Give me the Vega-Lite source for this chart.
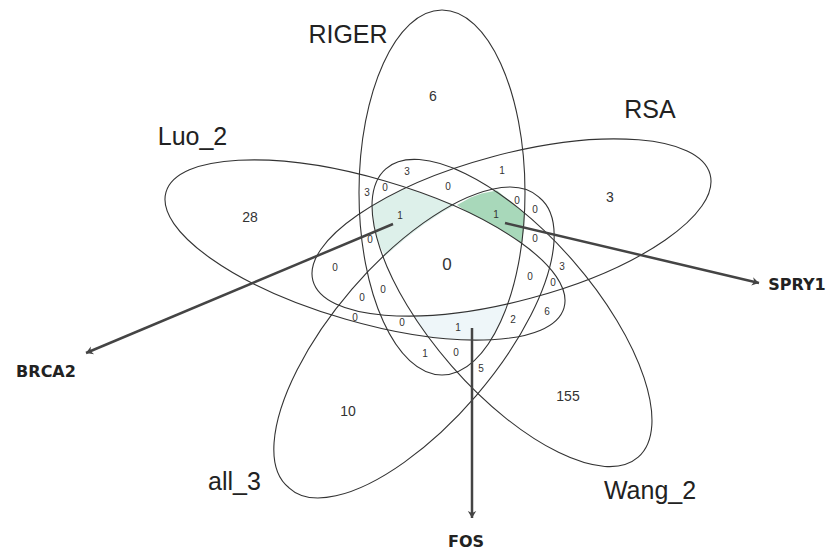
{
  "$schema": "https://vega.github.io/schema/vega-lite/v6.json",
  "width": 828,
  "height": 551,
  "padding": 0,
  "autosize": {"type": "none"},
  "background": "white",
  "config": {"view": {"stroke": null}},
  "datasets": {
    "ellipses": [
      {"set": "RIGER", "x": 442, "y": 192.5},
      {"set": "RSA", "x": 511.5, "y": 227.5},
      {"set": "Luo_2", "x": 365, "y": 250},
      {"set": "all_3", "x": 414, "y": 342.5},
      {"set": "Wang_2", "x": 512, "y": 313}
    ],
    "regions": [
      {"region": "BRCA2", "i": 1, "x": 372, "y": 205},
      {"region": "BRCA2", "i": 2, "x": 387, "y": 197.5},
      {"region": "BRCA2", "i": 3, "x": 403, "y": 189},
      {"region": "BRCA2", "i": 4, "x": 412.6, "y": 189.7},
      {"region": "BRCA2", "i": 5, "x": 435.9, "y": 198.4},
      {"region": "BRCA2", "i": 6, "x": 456, "y": 205},
      {"region": "BRCA2", "i": 7, "x": 443, "y": 211.7},
      {"region": "BRCA2", "i": 8, "x": 423.8, "y": 224.4},
      {"region": "BRCA2", "i": 9, "x": 406.7, "y": 237.5},
      {"region": "BRCA2", "i": 10, "x": 385, "y": 256},
      {"region": "BRCA2", "i": 11, "x": 378.5, "y": 243.6},
      {"region": "BRCA2", "i": 12, "x": 374, "y": 225.2},
      {"region": "SPRY1", "i": 1, "x": 457, "y": 205},
      {"region": "SPRY1", "i": 2, "x": 470.7, "y": 197.5},
      {"region": "SPRY1", "i": 3, "x": 481.5, "y": 193.4},
      {"region": "SPRY1", "i": 4, "x": 497, "y": 190.5},
      {"region": "SPRY1", "i": 5, "x": 513.4, "y": 204.2},
      {"region": "SPRY1", "i": 6, "x": 524.5, "y": 213},
      {"region": "SPRY1", "i": 7, "x": 524, "y": 228},
      {"region": "SPRY1", "i": 8, "x": 521.8, "y": 243},
      {"region": "SPRY1", "i": 9, "x": 508.3, "y": 234.3},
      {"region": "SPRY1", "i": 10, "x": 495.6, "y": 226.7},
      {"region": "SPRY1", "i": 11, "x": 481.9, "y": 219.1},
      {"region": "SPRY1", "i": 12, "x": 467.3, "y": 211.9},
      {"region": "FOS", "i": 1, "x": 414, "y": 316},
      {"region": "FOS", "i": 2, "x": 428.7, "y": 315.4},
      {"region": "FOS", "i": 3, "x": 461.5, "y": 312.2},
      {"region": "FOS", "i": 4, "x": 495.7, "y": 306.4},
      {"region": "FOS", "i": 5, "x": 507, "y": 304.5},
      {"region": "FOS", "i": 6, "x": 501.4, "y": 320},
      {"region": "FOS", "i": 7, "x": 490.6, "y": 340},
      {"region": "FOS", "i": 8, "x": 471.7, "y": 340},
      {"region": "FOS", "i": 9, "x": 447.1, "y": 338.7},
      {"region": "FOS", "i": 10, "x": 434.1, "y": 337.3},
      {"region": "FOS", "i": 11, "x": 428.5, "y": 337},
      {"region": "FOS", "i": 12, "x": 421, "y": 326.8}
    ],
    "arrows": [
      {"gene": "BRCA2", "x": 393, "y": 224, "ex": 86, "ey": 353, "angle": 157.2},
      {"gene": "SPRY1", "x": 505, "y": 223, "ex": 759, "ey": 283, "angle": 13.3},
      {"gene": "FOS", "x": 472, "y": 328, "ex": 472, "ey": 518, "angle": 90}
    ],
    "labels": [
      {"text": "RIGER", "x": 348, "y": 43, "kind": "set"},
      {"text": "RSA", "x": 650, "y": 118, "kind": "set"},
      {"text": "Luo_2", "x": 192.5, "y": 145, "kind": "set"},
      {"text": "all_3", "x": 234.5, "y": 490, "kind": "set"},
      {"text": "Wang_2", "x": 650, "y": 499, "kind": "set"},
      {"text": "BRCA2", "x": 46, "y": 377, "kind": "gene"},
      {"text": "SPRY1", "x": 797, "y": 290, "kind": "gene"},
      {"text": "FOS", "x": 466, "y": 547, "kind": "gene"},
      {"text": "6", "x": 433, "y": 97, "kind": "big"},
      {"text": "3", "x": 610, "y": 198, "kind": "big"},
      {"text": "28", "x": 250, "y": 218, "kind": "big"},
      {"text": "10", "x": 348, "y": 412, "kind": "big"},
      {"text": "155", "x": 568, "y": 397, "kind": "big"},
      {"text": "0", "x": 447, "y": 265, "kind": "center"},
      {"text": "3", "x": 407, "y": 172, "kind": "small"},
      {"text": "1", "x": 502, "y": 171, "kind": "small"},
      {"text": "3", "x": 367, "y": 193, "kind": "small"},
      {"text": "0", "x": 385, "y": 188, "kind": "small"},
      {"text": "0", "x": 448, "y": 187, "kind": "small"},
      {"text": "1", "x": 400, "y": 216, "kind": "small"},
      {"text": "1", "x": 496, "y": 215, "kind": "small"},
      {"text": "0", "x": 517, "y": 201, "kind": "small"},
      {"text": "0", "x": 535, "y": 210, "kind": "small"},
      {"text": "0", "x": 370, "y": 240, "kind": "small"},
      {"text": "0", "x": 535, "y": 239, "kind": "small"},
      {"text": "0", "x": 335, "y": 268, "kind": "small"},
      {"text": "3", "x": 562, "y": 267, "kind": "small"},
      {"text": "0", "x": 530, "y": 277, "kind": "small"},
      {"text": "0", "x": 553, "y": 283, "kind": "small"},
      {"text": "0", "x": 383, "y": 290, "kind": "small"},
      {"text": "0", "x": 362, "y": 298, "kind": "small"},
      {"text": "0", "x": 355, "y": 318, "kind": "small"},
      {"text": "0", "x": 402, "y": 323, "kind": "small"},
      {"text": "1", "x": 458, "y": 328, "kind": "small"},
      {"text": "2", "x": 513, "y": 320, "kind": "small"},
      {"text": "6", "x": 547, "y": 312, "kind": "small"},
      {"text": "1", "x": 425, "y": 354, "kind": "small"},
      {"text": "0", "x": 456, "y": 353, "kind": "small"},
      {"text": "5", "x": 481, "y": 369, "kind": "small"}
    ]
  },
  "encoding": {
    "x": {"field": "x", "type": "quantitative", "scale": {"domain": [0, 828], "nice": false, "zero": false}, "axis": null},
    "y": {"field": "y", "type": "quantitative", "scale": {"domain": [0, 551], "nice": false, "zero": false, "reverse": true}, "axis": null}
  },
  "layer": [
    {
      "data": {"name": "regions"},
      "mark": {"type": "line", "interpolate": "linear-closed", "filled": true, "strokeWidth": 0},
      "encoding": {
        "order": {"field": "i", "type": "quantitative"},
        "fill": {"field": "region", "type": "nominal", "scale": {"domain": ["BRCA2", "SPRY1", "FOS"], "range": ["#ddf0ea", "#a8d8ba", "#eef6f9"]}, "legend": null}
      }
    },
    {
      "data": {"name": "ellipses"},
      "mark": {"type": "point", "filled": false, "size": 4, "stroke": "#333333", "strokeWidth": 1.1, "opacity": 1},
      "encoding": {
        "shape": {"field": "set", "type": "nominal", "legend": null, "scale": {
          "domain": ["RIGER", "RSA", "Luo_2", "all_3", "Wang_2"],
          "range": [
            "M 0 -182.5 A 83 182.5 0 1 1 0 182.5 A 83 182.5 0 1 1 0 -182.5 Z",
            "M -198.6 53.2 A 205.6 73.3 -15 1 1 198.6 -53.2 A 205.6 73.3 -15 1 1 -198.6 53.2 Z",
            "M -199 -57.8 A 207.2 71.9 16.2 1 1 199 57.8 A 207.2 71.9 16.2 1 1 -199 -57.8 Z",
            "M -125 145.3 A 191.7 80.4 -49.3 1 1 125 -145.3 A 191.7 80.4 -49.3 1 1 -125 145.3 Z",
            "M -126.2 -144.2 A 191.6 80.3 48.8 1 1 126.2 144.2 A 191.6 80.3 48.8 1 1 -126.2 -144.2 Z"
          ]}}
      }
    },
    {
      "data": {"name": "arrows"},
      "mark": {"type": "rule", "stroke": "#444444", "strokeWidth": 2.5},
      "encoding": {
        "x2": {"field": "ex"},
        "y2": {"field": "ey"}
      }
    },
    {
      "data": {"name": "arrows"},
      "mark": {"type": "point", "filled": true, "size": 196, "fill": "#444444", "strokeWidth": 0, "opacity": 1, "shape": "M 0 0 L -1 -0.6 L -0.7 0 L -1 0.6 Z"},
      "encoding": {
        "x": {"field": "ex", "type": "quantitative"},
        "y": {"field": "ey", "type": "quantitative"},
        "angle": {"field": "angle", "type": "quantitative", "scale": null}
      }
    },
    {
      "data": {"name": "labels"},
      "transform": [{"filter": "datum.kind === 'set'"}],
      "mark": {"type": "text", "font": "Liberation Sans", "fontSize": 25, "fill": "#222222", "align": "center", "baseline": "alphabetic"},
      "encoding": {"text": {"field": "text"}}
    },
    {
      "data": {"name": "labels"},
      "transform": [{"filter": "datum.kind === 'gene'"}],
      "mark": {"type": "text", "font": "DejaVu Sans", "fontWeight": "bold", "fontSize": 16, "fill": "#222222", "align": "center", "baseline": "alphabetic"},
      "encoding": {"text": {"field": "text"}}
    },
    {
      "data": {"name": "labels"},
      "transform": [{"filter": "datum.kind === 'big'"}],
      "mark": {"type": "text", "font": "Liberation Sans", "fontSize": 14, "fill": "#333333", "align": "center", "baseline": "middle"},
      "encoding": {"text": {"field": "text"}}
    },
    {
      "data": {"name": "labels"},
      "transform": [{"filter": "datum.kind === 'center'"}],
      "mark": {"type": "text", "font": "Liberation Sans", "fontSize": 17, "fill": "#333333", "align": "center", "baseline": "middle"},
      "encoding": {"text": {"field": "text"}}
    },
    {
      "data": {"name": "labels"},
      "transform": [{"filter": "datum.kind === 'small'"}],
      "mark": {"type": "text", "font": "Liberation Sans", "fontSize": 10, "fill": "#333333", "align": "center", "baseline": "middle"},
      "encoding": {"text": {"field": "text"}}
    }
  ]
}
